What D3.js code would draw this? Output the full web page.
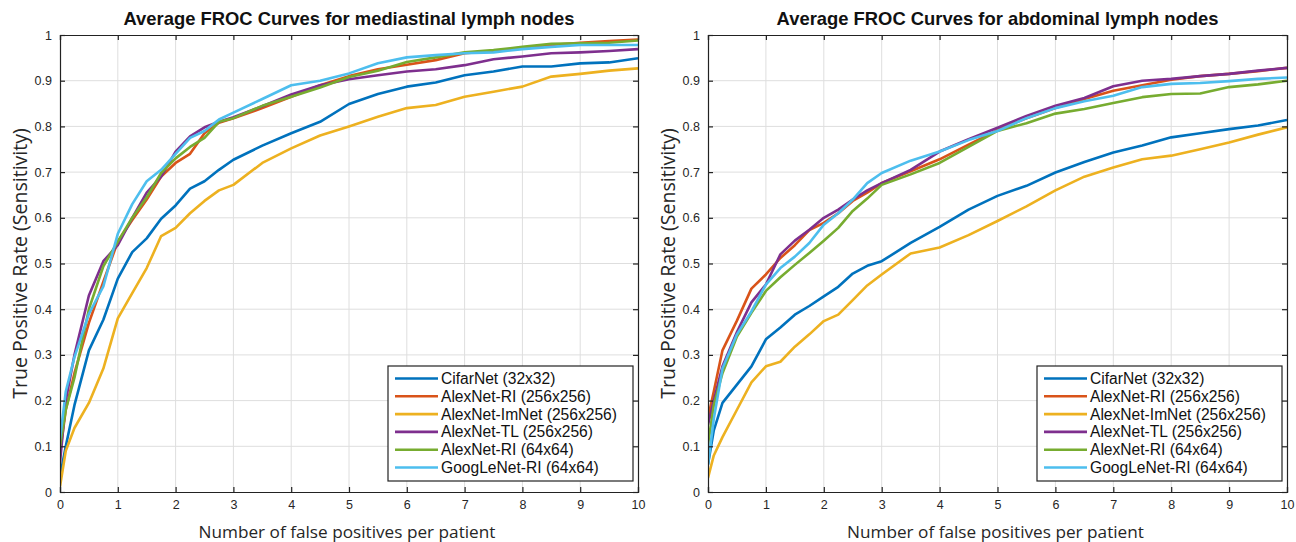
<!DOCTYPE html>
<html>
<head>
<meta charset="utf-8">
<script src="https://cdn.jsdelivr.net/npm/d3@7/dist/d3.min.js"></script>
<style>
  html, body { margin: 0; padding: 0; background: #fff; }
  svg { display: block; }
</style>
</head>
<body>
<svg id="chart" width="1296" height="542"></svg>
<script>
// ---------------- DATA ----------------
const fpX = [0, 0.1, 0.25, 0.5, 0.75, 1, 1.25, 1.5, 1.75, 2, 2.25, 2.5, 2.75, 3,
             3.5, 4, 4.5, 5, 5.5, 6, 6.5, 7, 7.5, 8, 8.5, 9, 9.5, 10];

const seriesNames = ["CifarNet (32x32)", "AlexNet-RI (256x256)", "AlexNet-ImNet (256x256)",
                     "AlexNet-TL (256x256)", "AlexNet-RI (64x64)", "GoogLeNet-RI (64x64)"];
const seriesColors = ["#0072BD", "#D95319", "#EDB120", "#7E2F8E", "#77AC30", "#4DBEEE"];

const xTickValues = [0, 1, 2, 3, 4, 5, 6, 7, 8, 9, 10];
const yTickValues = [0, 0.1, 0.2, 0.3, 0.4, 0.5, 0.6, 0.7, 0.8, 0.9, 1];
const yTickLabels = ["0", "0.1", "0.2", "0.3", "0.4", "0.5", "0.6", "0.7", "0.8", "0.9", "1"];

// Mediastinal lymph nodes
const medCifarNet = [0.034, 0.10, 0.19, 0.31, 0.377, 0.467, 0.525, 0.555, 0.598, 0.627, 0.664, 0.68, 0.705, 0.727,
                     0.758, 0.785, 0.81, 0.849, 0.871, 0.887, 0.896, 0.912, 0.92, 0.931, 0.931, 0.938, 0.94, 0.949];
const medAlexRI256 = [0.085, 0.18, 0.26, 0.37, 0.46, 0.548, 0.595, 0.64, 0.69, 0.72, 0.74, 0.785, 0.808, 0.818,
                      0.84, 0.865, 0.89, 0.91, 0.925, 0.935, 0.945, 0.96, 0.965, 0.972, 0.978, 0.983, 0.987, 0.99];
const medAlexImNet = [0.012, 0.09, 0.14, 0.195, 0.27, 0.38, 0.435, 0.49, 0.56, 0.578, 0.61, 0.637, 0.66, 0.672,
                      0.72, 0.752, 0.78, 0.80, 0.821, 0.84, 0.847, 0.865, 0.876, 0.887, 0.909, 0.915, 0.922, 0.927];
const medAlexTL = [0.064, 0.2, 0.3, 0.43, 0.505, 0.54, 0.6, 0.655, 0.69, 0.745, 0.778, 0.798, 0.81, 0.82,
                   0.844, 0.87, 0.89, 0.903, 0.912, 0.92, 0.925, 0.934, 0.947, 0.953, 0.96, 0.962, 0.965, 0.969];
const medAlexRI64 = [0.1, 0.18, 0.25, 0.4, 0.494, 0.548, 0.6, 0.645, 0.698, 0.73, 0.755, 0.775, 0.81, 0.818,
                     0.845, 0.865, 0.885, 0.908, 0.922, 0.941, 0.951, 0.962, 0.967, 0.974, 0.981, 0.982, 0.983, 0.988];
const medGoogLeNet = [0.115, 0.22, 0.295, 0.39, 0.45, 0.565, 0.63, 0.68, 0.705, 0.74, 0.775, 0.79, 0.815, 0.83,
                      0.86, 0.89, 0.9, 0.916, 0.938, 0.951, 0.956, 0.96, 0.962, 0.969, 0.974, 0.978, 0.978, 0.978];

// Abdominal lymph nodes
const abdCifarNet = [0.06, 0.135, 0.195, 0.235, 0.275, 0.334, 0.36, 0.388, 0.407, 0.428, 0.449, 0.478, 0.495, 0.505,
                     0.545, 0.58, 0.618, 0.648, 0.67, 0.699, 0.722, 0.743, 0.758, 0.776, 0.785, 0.794, 0.802, 0.814];
const abdAlexRI256 = [0.162, 0.22, 0.31, 0.375, 0.445, 0.476, 0.512, 0.54, 0.573, 0.589, 0.61, 0.637, 0.655, 0.676,
                      0.702, 0.728, 0.76, 0.792, 0.818, 0.84, 0.86, 0.878, 0.89, 0.902, 0.91, 0.915, 0.921, 0.928];
const abdAlexImNet = [0.031, 0.08, 0.12, 0.18, 0.24, 0.275, 0.285, 0.318, 0.345, 0.374, 0.388, 0.42, 0.452, 0.476,
                      0.522, 0.535, 0.562, 0.593, 0.625, 0.66, 0.69, 0.71, 0.728, 0.736, 0.75, 0.765, 0.782, 0.798];
const abdAlexTL = [0.147, 0.2, 0.275, 0.35, 0.415, 0.454, 0.52, 0.55, 0.574, 0.6, 0.618, 0.64, 0.66, 0.676,
                   0.705, 0.745, 0.772, 0.797, 0.823, 0.845, 0.862, 0.888, 0.9, 0.904, 0.91, 0.915, 0.922, 0.928];
const abdAlexRI64 = [0.104, 0.19, 0.26, 0.34, 0.392, 0.44, 0.47, 0.497, 0.523, 0.55, 0.578, 0.615, 0.642, 0.672,
                     0.695, 0.72, 0.755, 0.79, 0.807, 0.828, 0.838, 0.851, 0.864, 0.871, 0.872, 0.886, 0.892, 0.9];
const abdGoogLeNet = [0.06, 0.16, 0.27, 0.345, 0.395, 0.454, 0.49, 0.515, 0.545, 0.585, 0.61, 0.64, 0.676, 0.698,
                      0.725, 0.745, 0.77, 0.79, 0.818, 0.84, 0.855, 0.867, 0.886, 0.893, 0.895, 0.899, 0.904, 0.907];

const panels = [
  { title: "Average FROC Curves for mediastinal lymph nodes",
    series: [medCifarNet, medAlexRI256, medAlexImNet, medAlexTL, medAlexRI64, medGoogLeNet],
    left: 60, right: 638 },
  { title: "Average FROC Curves for abdominal lymph nodes",
    series: [abdCifarNet, abdAlexRI256, abdAlexImNet, abdAlexTL, abdAlexRI64, abdGoogLeNet],
    left: 708, right: 1287 }
];

// ---------------- DRAW ----------------
const svg = d3.select("#chart");
const plotTop = 35, plotBottom = 492;
const tickFont = "'Liberation Sans', Arial, Helvetica, sans-serif";
const labelFont = "'Open Sans', 'Noto Sans', sans-serif";

panels.forEach(p => {
  const x = d3.scaleLinear().domain([0, 10]).range([p.left, p.right]);
  const y = d3.scaleLinear().domain([0, 1]).range([plotBottom, plotTop]);
  const g = svg.append("g");

  // grid
  g.append("g").selectAll("line").data(xTickValues.slice(1, -1)).join("line")
    .attr("x1", d => x(d)).attr("x2", d => x(d)).attr("y1", plotTop).attr("y2", plotBottom)
    .attr("stroke", "#dedede").attr("stroke-width", 1);
  g.append("g").selectAll("line").data(yTickValues.slice(1, -1)).join("line")
    .attr("y1", d => y(d)).attr("y2", d => y(d)).attr("x1", p.left).attr("x2", p.right)
    .attr("stroke", "#dedede").attr("stroke-width", 1);

  // clip
  const clipId = "clip" + p.left;
  svg.append("clipPath").attr("id", clipId).append("rect")
    .attr("x", p.left).attr("y", plotTop - 2).attr("width", p.right - p.left).attr("height", plotBottom - plotTop + 2);

  // lines
  const line = d3.line().x((d, i) => x(fpX[i])).y(d => y(d));
  g.append("g").attr("clip-path", `url(#${clipId})`)
    .selectAll("path").data(p.series).join("path")
    .attr("d", d => line(d))
    .attr("fill", "none")
    .attr("stroke", (d, i) => seriesColors[i])
    .attr("stroke-width", 2.6)
    .attr("stroke-linejoin", "round");

  // axes
  const axB = d3.axisBottom(x).tickValues(xTickValues).tickSize(-5).tickPadding(8).tickFormat(d3.format("d"));
  const axT = d3.axisTop(x).tickValues(xTickValues).tickSize(-5).tickFormat("");
  const axL = d3.axisLeft(y).tickValues(yTickValues).tickSize(-5).tickPadding(8).tickFormat((d, i) => yTickLabels[i]);
  const axR = d3.axisRight(y).tickValues(yTickValues).tickSize(-5).tickFormat("");

  [[axB, `translate(0,${plotBottom})`], [axT, `translate(0,${plotTop})`],
   [axL, `translate(${p.left},0)`], [axR, `translate(${p.right},0)`]].forEach(([ax, tr]) => {
    const a = g.append("g").attr("transform", tr).call(ax);
    a.select(".domain").attr("stroke", "#222").attr("stroke-width", 1.2);
    a.selectAll(".tick line").attr("stroke", "#222").attr("stroke-width", 1.2);
    a.selectAll(".tick text").attr("font-family", tickFont).attr("font-size", 12.5).attr("fill", "#262626");
  });

  // title
  svg.append("text").attr("x", (p.left + p.right) / 2).attr("y", 25)
    .attr("text-anchor", "middle").attr("font-family", tickFont).attr("font-weight", "bold")
    .attr("font-size", 18.4).attr("fill", "#111").text(p.title);

  // x label
  svg.append("text").attr("x", (p.left + p.right) / 2 - 2).attr("y", 538)
    .attr("text-anchor", "middle").attr("font-family", labelFont)
    .attr("font-size", 17.2).attr("fill", "#262626").text("Number of false positives per patient");

  // y label
  svg.append("text").attr("transform", `translate(${p.left - 33},${(plotTop + plotBottom) / 2}) rotate(-90)`)
    .attr("text-anchor", "middle").attr("font-family", labelFont)
    .attr("font-size", 19.5).attr("fill", "#262626").text("True Positive Rate (Sensitivity)");

  // legend
  const lgX = p.right - 250, lgY = 366, lgW = 245, lgH = 115;
  const lg = svg.append("g");
  lg.append("rect").attr("x", lgX).attr("y", lgY).attr("width", lgW).attr("height", lgH)
    .attr("fill", "#fff").attr("stroke", "#222").attr("stroke-width", 1.2);
  const rows = lg.selectAll("g").data(seriesNames).join("g")
    .attr("transform", (d, i) => `translate(${lgX}, ${lgY + 12.5 + i * 17.8})`);
  rows.append("line").attr("x1", 7).attr("x2", 50).attr("y1", 0).attr("y2", 0)
    .attr("stroke", (d, i) => seriesColors[i]).attr("stroke-width", 2.6);
  rows.append("text").attr("x", 53).attr("y", 5.4)
    .attr("font-family", tickFont).attr("font-size", 15.6).attr("fill", "#111").text(d => d);
});
</script>
</body>
</html>
